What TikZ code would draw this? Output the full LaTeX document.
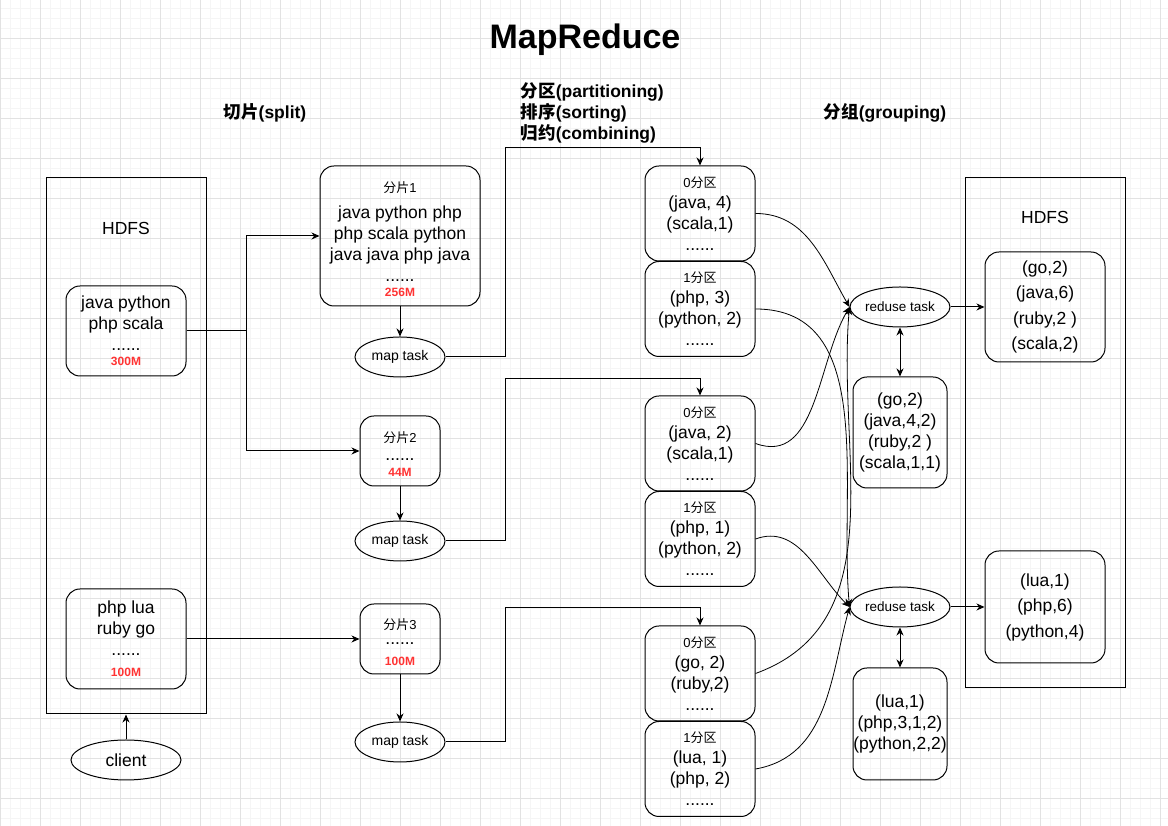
\documentclass[tikz,border=0pt]{standalone}
\usepackage{fontspec}
\setmainfont{Liberation Sans}
\newfontfamily\cjk{Noto Sans CJK SC}
\usetikzlibrary{arrows.meta, shapes.geometric}

\definecolor{sizered}{RGB}{255,51,51}
\definecolor{gridmajor}{RGB}{226,226,226}
\definecolor{gridminor}{RGB}{245,245,245}

\newcommand\bodysize{\fontsize{17.5}{21}\selectfont}
\newcommand\labelsize{\fontsize{13}{16}\selectfont}
\newcommand\tasksize{\fontsize{14}{17}\selectfont}
\newcommand\headsize{\fontsize{17.5}{21}\selectfont\bfseries}
\newcommand\zhtext[1]{{\cjk #1}}
\newcommand\sizetag[1]{{\fontsize{12}{14}\selectfont\bfseries\color{sizered}#1}}
\newcommand\splitlabel[1]{{\labelsize\rule{0pt}{17pt}\zhtext{分片}#1}}

\begin{document}
\begin{tikzpicture}[
        x=1pt,
        y=1pt,
        line width=1pt,
        >={Stealth[length=8pt, width=7pt, inset=2.5pt]},
        grid-minor/.style={
            draw=gridminor,
            line width=0.6pt,
        },
        grid-major/.style={
            draw=gridmajor,
            line width=0.8pt,
        },
        store/.style={
            draw,
            minimum width=160pt,
            inner sep=0pt,
        },
        block/.style={
            draw,
            rounded corners=14pt,
            align=center,
            inner sep=0pt,
            font=\bodysize,
        },
        out-block/.style={
            block,
            minimum width=120pt,
            font=\fontsize{17.5}{25.5}\selectfont,
        },
        part/.style={
            block,
            minimum width=110pt,
            minimum height=95pt,
        },
        task/.style={
            draw,
            ellipse,
            minimum width=90pt,
            minimum height=40pt,
            inner sep=0pt,
            font=\tasksize,
        },
        heading/.style={
            font=\headsize,
            align=left,
        },
        link/.style={
            ->,
        },
        link-flow/.style={
            ->,
            line width=0.8pt,
        },
        link-both/.style={
            <->,
        },
    ]

    \useasboundingbox (0,0) rectangle (1168,826);

    % Background grid.
    \begin{scope}
        \clip (0,0) rectangle (1168,826);
        \draw[grid-minor, yshift=-12pt] (0,0) grid[step=10] (1170,850);
        \draw[grid-major, yshift=-12pt] (0,0) grid[step=40] (1170,850);
    \end{scope}

    % Titles.
    \node[font=\fontsize{34}{40}\selectfont\bfseries] (title) at (585,786) {MapReduce};
    \node[heading] (head-split) at (265,713) {\zhtext{切片}(split)};
    \node[heading, anchor=west] (head-map) at (517,713) {\zhtext{分区}(partitioning)\\ \zhtext{排序}(sorting)\\ \zhtext{归约}(combining)};
    \node[heading] (head-group) at (885,713) {\zhtext{分组}(grouping)};

    % Input storage.
    \node[store, minimum height=536pt] (hdfs-in) at (126,380) {};
    \node[font=\bodysize] (hdfs-in-title) at (126,598) {HDFS};
    \node[block, minimum width=120pt, minimum height=90pt] (file-a) at (126,495) {java python\\ php scala\\ ......\\[-6pt] \sizetag{300M}};
    \node[block, minimum width=120pt, minimum height=100pt] (file-b) at (126,187) {php lua\\ ruby go\\ ......\\ \sizetag{100M}};
    \node[task, minimum width=110pt, font=\bodysize] (client) at (126,66) {client};

    % Splits and map tasks.
    \node[block, minimum width=160pt, minimum height=140pt] (split-1) at (400,590) {\splitlabel{1}\\[5pt] java python php\\ php scala python\\ java java php java\\ ......\\[-6pt] \sizetag{256M}};
    \node[block, minimum width=80pt, minimum height=70pt] (split-2) at (400,375) {\splitlabel{2}\\[-3pt] ......\\[-5pt] \sizetag{44M}};
    \node[block, minimum width=80pt, minimum height=70pt] (split-3) at (400,187) {\splitlabel{3}\\[-6pt] ......\\ \sizetag{100M}};

    \node[task] (map-1) at (400,469) {map task};
    \node[task] (map-2) at (400,285) {map task};
    \node[task] (map-3) at (400,84) {map task};

    % Partitions.
    \node[part] (part-1-0) at (700,612.5) {{\labelsize 0\zhtext{分区}}\\ (java, 4)\\ (scala,1)\\ ......};
    \node[part] (part-1-1) at (700,517) {{\labelsize 1\zhtext{分区}}\\ (php, 3)\\ (python, 2)\\ ......};
    \node[part] (part-2-0) at (700,382.5) {{\labelsize 0\zhtext{分区}}\\ (java, 2)\\ (scala,1)\\ ......};
    \node[part] (part-2-1) at (700,287) {{\labelsize 1\zhtext{分区}}\\ (php, 1)\\ (python, 2)\\ ......};
    \node[part] (part-3-0) at (700,152.5) {{\labelsize 0\zhtext{分区}}\\ (go, 2)\\ (ruby,2)\\ ......};
    \node[part] (part-3-1) at (700,57) {{\labelsize 1\zhtext{分区}}\\ (lua, 1)\\ (php, 2)\\ ......};

    % Reduce tasks and groups.
    \node[task, minimum width=100pt, font=\fontsize{13.5}{16}\selectfont] (reduce-1) at (900,519) {reduse task};
    \node[task, minimum width=100pt, font=\fontsize{13.5}{16}\selectfont] (reduce-2) at (900,219) {reduse task};
    \node[block, minimum width=94pt, minimum height=111pt] (group-1) at (900,393.5) {(go,2)\\ (java,4,2)\\ (ruby,2 )\\ (scala,1,1)};
    \node[block, minimum width=94pt, minimum height=112pt] (group-2) at (900,102) {(lua,1)\\ (php,3,1,2)\\ (python,2,2)};

    % Output storage.
    \node[store, minimum height=510pt] (hdfs-out) at (1045,393) {};
    \node[font=\bodysize] (hdfs-out-title) at (1045,609) {HDFS};
    \node[out-block, minimum height=110pt] (result-1) at (1045,519) {(go,2)\\ (java,6)\\ (ruby,2 )\\ (scala,2)};
    \node[out-block, minimum height=112pt] (result-2) at (1045,219) {(lua,1)\\ (php,6)\\ (python,4)};

    % Splitting.
    \coordinate (fork) at (246,495);
    \draw (file-a.east) -- (fork);
    \draw[link] (fork) |- (split-1.west);
    \draw[link] (fork) |- (split-2.west);
    \draw[link] (file-b.east) -- (split-3.west);
    \draw[link] (client) -- (hdfs-in);

    % Map tasks feed their partitions.
    \coordinate (hop-1) at (505,678);
    \coordinate (hop-2) at (505,447);
    \coordinate (hop-3) at (505,218);
    \foreach \n in {1, 2, 3}
    \draw[link] (split-\n) -- (map-\n);

    \foreach \n in {1, 2, 3}
    \draw[link] (map-\n.east) -| (hop-\n) -| (part-\n-0.north);

    % Shuffle to the reducers.
    \draw[link-flow] (part-1-0.east) to[out=0, in=120] (reduce-1.west);
    \draw[link-flow] (part-2-0.east) to[out=-20, in=240] (reduce-1.west);
    \draw[link-flow] (part-3-0.east) to[out=20, in=265] (reduce-1.west);
    \draw[link-flow] (part-1-1.east) to[out=0, in=95] (reduce-2.west);
    \draw[link-flow] (part-2-1.east) to[out=20, in=135] (reduce-2.west);
    \draw[link-flow] (part-3-1.east) to[out=10, in=255] (reduce-2.west);

    % Reduce output.
    \draw[link-both] (reduce-1) -- (group-1);
    \draw[link-both] (reduce-2) -- (group-2);
    \draw[link] (reduce-1) -- (result-1);
    \draw[link] (reduce-2) -- (result-2);
\end{tikzpicture}
\end{document}
